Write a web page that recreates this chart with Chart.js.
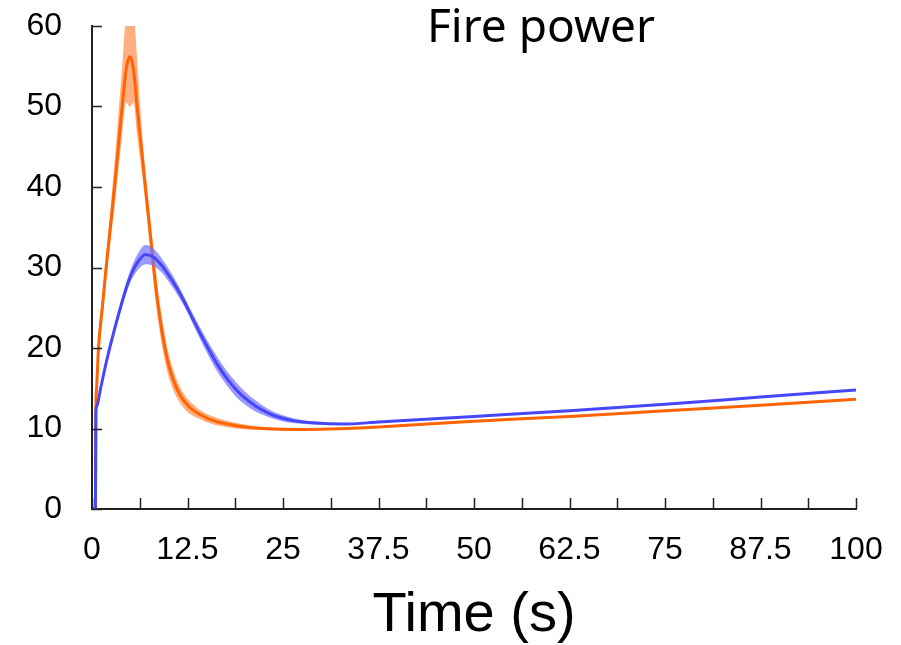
<!DOCTYPE html>
<html>
<head>
<meta charset="utf-8">
<script src="https://cdn.jsdelivr.net/npm/chart.js@4.4.1/dist/chart.umd.min.js"></script>
<style>
  html, body { margin: 0; padding: 0; background: #ffffff; }
  #wrap { width: 901px; height: 645px; position: relative; }
</style>
</head>
<body>
<div id="wrap"><canvas id="c" width="901" height="645"></canvas></div>
<script>
// ---- Data ----
const chartTitle = "Fire power";
const xAxisTitle = "Time (s)";
const xTickValues = [0, 12.5, 25, 37.5, 50, 62.5, 75, 87.5, 100];
const yTickValues = [0, 10, 20, 30, 40, 50, 60];

// Orange series (mean, lower and upper band)
const orangeTime = [0, 0.45, 0.5, 0.6, 0.85, 1.35, 1.85, 2.4, 2.95, 3.45, 3.95, 4.45, 4.95, 5.45, 5.9, 6.5, 7.1, 7.7, 8.3, 9.0, 9.8, 10.5, 11.5, 12.7, 14, 15.7, 17.5, 20, 22.5, 25, 28, 31, 37.5, 50, 62.5, 75, 87.5, 100];
const orangeMean = [0, 0, 12, 15, 20, 25, 30, 35, 40, 45, 50, 54.5, 56.2, 54.5, 50, 44.5, 39, 33.5, 28, 23, 18.8, 16.4, 14.2, 12.7, 11.8, 11.05, 10.6, 10.2, 10.0, 9.9, 9.88, 9.94, 10.2, 10.9, 11.5, 12.2, 12.9, 13.63];
const orangeLow  = [0, 0, 11.5, 14, 18.5, 23.5, 28.5, 33, 37.5, 42, 46.5, 50.5, 50, 50.5, 46.5, 42, 37, 31.5, 26, 21.2, 17.3, 15.1, 13.2, 11.9, 11.2, 10.55, 10.2, 9.9, 9.8, 9.75, 9.78, 9.84, 10.15, 10.85, 11.45, 12.15, 12.85, 13.58];
const orangeHigh = [0, 0, 12.5, 16, 21.5, 26.5, 31.5, 37, 43, 49, 55, 61.5, 63, 62, 56, 47.5, 41, 35.5, 30, 24.8, 20.3, 17.7, 15.2, 13.5, 12.4, 11.55, 11.0, 10.5, 10.2, 10.05, 9.98, 10.04, 10.25, 10.95, 11.55, 12.25, 12.95, 13.68];

// Blue series (mean, lower and upper band)
const blueTime = [0, 0.45, 0.5, 0.6, 1.13, 1.96, 2.8, 3.75, 4.5, 5.2, 6.0, 7.0, 8.0, 9.0, 10.0, 11.0, 12.0, 13.0, 14.0, 15.0, 16.0, 17.0, 18.0, 19.0, 20, 21.4, 23, 24.5, 26.5, 28.8, 33, 37.5, 50, 62.5, 75, 87.5, 100];
const blueMean = [0, 0, 12, 12.7, 15.0, 18.6, 21.8, 25.1, 27.5, 29.3, 30.7, 31.6, 31.3, 30.4, 29.1, 27.6, 25.9, 24.0, 22.1, 20.3, 18.6, 17.1, 15.8, 14.7, 13.8, 12.8, 11.95, 11.4, 10.95, 10.7, 10.55, 10.8, 11.5, 12.2, 13.0, 13.9, 14.78];
const blueLow  = [0, 0, 11.7, 12.4, 14.6, 18.1, 21.3, 24.5, 26.8, 28.5, 29.7, 30.4, 30.2, 29.5, 28.3, 26.9, 25.3, 23.4, 21.4, 19.5, 17.7, 16.2, 14.9, 13.8, 13.0, 12.1, 11.45, 11.0, 10.65, 10.5, 10.45, 10.75, 11.45, 12.15, 12.95, 13.85, 14.73];
const blueHigh = [0, 0, 12.3, 13.0, 15.4, 19.1, 22.3, 25.7, 28.2, 30.1, 31.7, 32.8, 32.4, 31.3, 29.9, 28.3, 26.5, 24.6, 22.8, 21.1, 19.5, 18.0, 16.7, 15.6, 14.6, 13.5, 12.45, 11.8, 11.25, 10.9, 10.65, 10.85, 11.55, 12.25, 13.05, 13.95, 14.83];

// ---- Styles ----
const ORANGE_LINE = '#FF6400';
const ORANGE_BAND = 'rgba(255,150,90,0.75)';
const BLUE_LINE = '#4646FA';
const BLUE_BAND = 'rgba(110,110,255,0.7)';

const pts = (xs, ys) => xs.map((x, i) => ({ x: x, y: ys[i] }));

const bandBase = { pointRadius: 0, borderWidth: 0, fill: false, cubicInterpolationMode: 'monotone' };

const inwardTicks = {
  id: 'inwardTicks',
  afterDatasetsDraw(chart) {
    const ctx = chart.ctx;
    const xs = chart.scales.x, ys = chart.scales.y;
    const area = chart.chartArea;
    ctx.save();
    ctx.strokeStyle = '#222';
    ctx.lineWidth = 1.5;
    ctx.beginPath();
    xs.ticks.forEach(t => {
      const px = Math.round(xs.getPixelForValue(t.value)) + 0.5;
      ctx.moveTo(px, area.bottom);
      ctx.lineTo(px, area.bottom - 11);
    });
    ys.ticks.forEach(t => {
      const py = Math.round(ys.getPixelForValue(t.value)) + 0.5;
      ctx.moveTo(area.left, py);
      ctx.lineTo(area.left + 10, py);
    });
    ctx.stroke();
    ctx.restore();
  }
};

const titleInPlot = {
  id: 'titleInPlot',
  afterDraw(chart) {
    const ctx = chart.ctx;
    ctx.save();
    ctx.font = '400 46px "Noto Sans"';
    ctx.fillStyle = '#000';
    ctx.textAlign = 'center';
    ctx.textBaseline = 'alphabetic';
    ctx.fillText(chartTitle, 541, 42);
    ctx.restore();
  }
};

new Chart(document.getElementById('c'), {
  type: 'line',
  data: {
    datasets: [
      { label: 'blue', data: pts(blueTime, blueMean), borderColor: BLUE_LINE, borderWidth: 3, pointRadius: 0, fill: false, cubicInterpolationMode: 'monotone', order: 0 },
      { label: 'blue low', data: pts(blueTime, blueLow), ...bandBase, order: 1 },
      { label: 'blue high', data: pts(blueTime, blueHigh), ...bandBase, fill: '-1', backgroundColor: BLUE_BAND, order: 1 },
      { label: 'orange', data: pts(orangeTime, orangeMean), borderColor: ORANGE_LINE, borderWidth: 3, pointRadius: 0, fill: false, cubicInterpolationMode: 'monotone', order: 2 },
      { label: 'orange low', data: pts(orangeTime, orangeLow), ...bandBase, order: 3 },
      { label: 'orange high', data: pts(orangeTime, orangeHigh), ...bandBase, fill: '-1', backgroundColor: ORANGE_BAND, order: 3 }
    ]
  },
  options: {
    responsive: false,
    animation: false,
    events: [],
    layout: { padding: { top: 26, right: 45, left: 0, bottom: 0 } },
    plugins: { legend: { display: false }, tooltip: { enabled: false }, title: { display: false } },
    scales: {
      x: {
        type: 'linear', min: 0, max: 100,
        afterFit: s => { s.height = 136; s.paddingLeft = 0; s.paddingRight = 0; },
        afterBuildTicks: s => { s.ticks = []; for (let v = 0; v <= 100; v += 6.25) s.ticks.push({ value: v }); },
        ticks: {
          autoSkip: false, maxRotation: 0, padding: 22, color: '#000',
          font: { family: '"Liberation Sans", Arial', size: 32 },
          callback: v => (xTickValues.includes(v) ? String(v) : '')
        },
        grid: { display: false, drawTicks: false },
        border: { display: true, color: '#222', width: 2 },
        title: { display: true, text: xAxisTitle, color: '#000', font: { family: '"Liberation Sans", Arial', size: 56, lineHeight: 1.05 }, padding: { top: 0, bottom: 0 } }
      },
      y: {
        type: 'linear', min: 0, max: 60,
        afterFit: s => { s.width = 92; s.paddingTop = 0; s.paddingBottom = 0; },
        afterBuildTicks: s => { s.ticks = yTickValues.map(v => ({ value: v })); },
        ticks: { padding: 30, color: '#000', font: { family: '"Liberation Sans", Arial', size: 32 } },
        grid: { display: false, drawTicks: false },
        border: { display: true, color: '#222', width: 2 }
      }
    }
  },
  plugins: [inwardTicks, titleInPlot]
});
</script>
</body>
</html>
